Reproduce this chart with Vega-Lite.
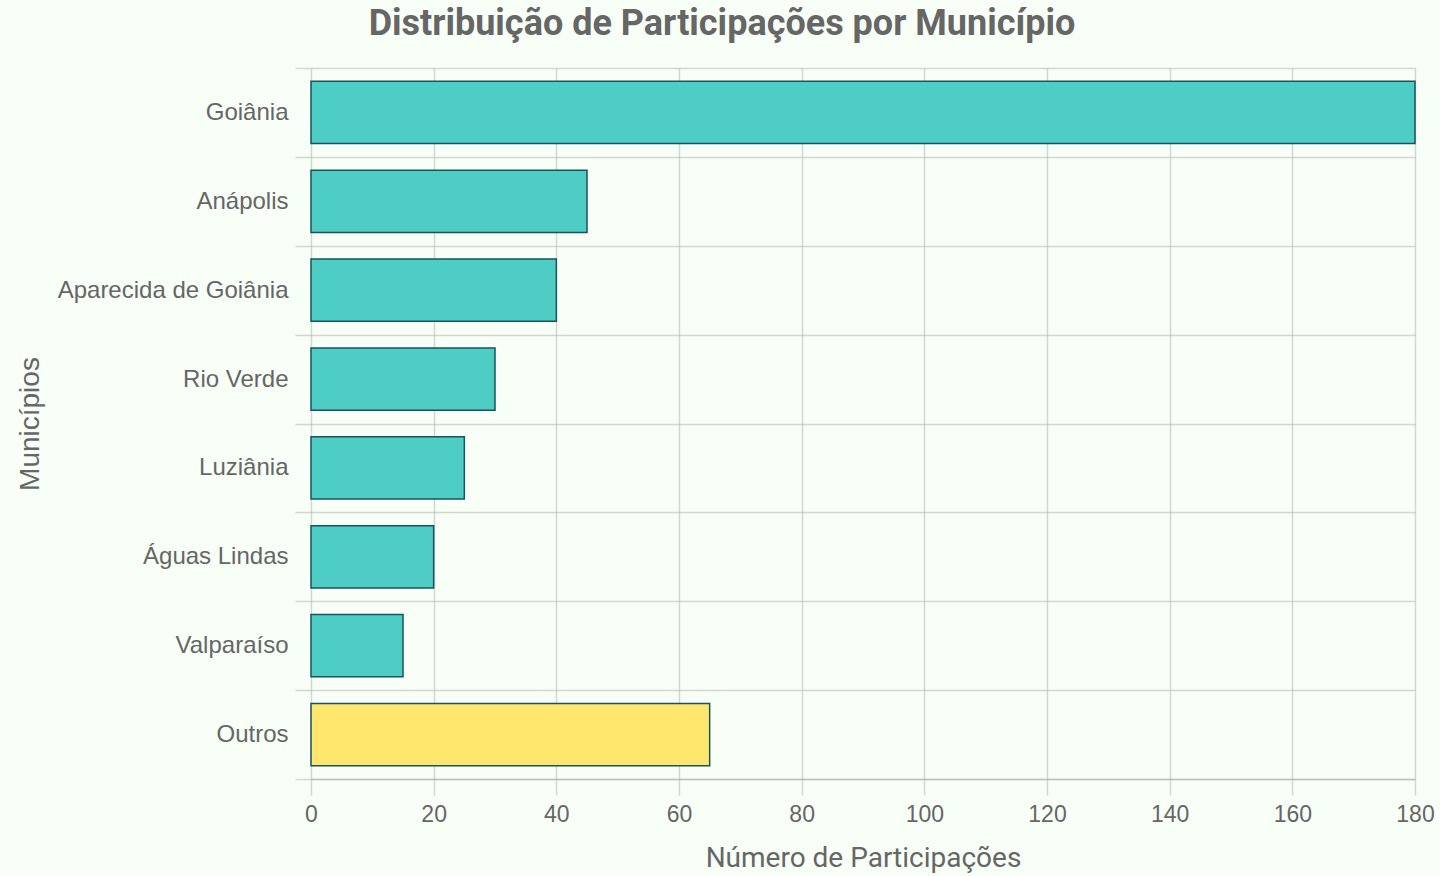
{
  "$schema": "https://vega.github.io/schema/vega-lite/v6.json",
  "width": 1104,
  "height": 711,
  "autosize": {"type": "none"},
  "padding": {"left": 311, "top": 68, "right": 25, "bottom": 97},
  "background": "#F7FFF7",
  "config": {"view": {"stroke": null}},
  "title": {
    "text": "Distribuição de Participações por Município",
    "font": "Roboto",
    "fontSize": 36,
    "fontWeight": "bold",
    "color": "#666666",
    "anchor": "middle",
    "frame": "group",
    "dx": -141,
    "offset": 13
  },
  "data": {
    "values": [
      {"municipio": "Goiânia", "participacoes": 180, "grupo": "top"},
      {"municipio": "Anápolis", "participacoes": 45, "grupo": "top"},
      {"municipio": "Aparecida de Goiânia", "participacoes": 40, "grupo": "top"},
      {"municipio": "Rio Verde", "participacoes": 30, "grupo": "top"},
      {"municipio": "Luziânia", "participacoes": 25, "grupo": "top"},
      {"municipio": "Águas Lindas", "participacoes": 20, "grupo": "top"},
      {"municipio": "Valparaíso", "participacoes": 15, "grupo": "top"},
      {"municipio": "Outros", "participacoes": 65, "grupo": "outros"}
    ]
  },
  "mark": {"type": "bar", "stroke": "#1A535C", "strokeWidth": 1.5, "height": {"band": 0.7}},
  "encoding": {
    "y": {
      "field": "municipio",
      "type": "nominal",
      "sort": null,
      "scale": {"paddingInner": 0, "paddingOuter": 0},
      "axis": {
        "title": "Municípios",
        "titleFont": "Liberation Sans",
        "titleFontSize": 28,
        "titleFontWeight": "normal",
        "titleColor": "#666666",
        "titleX": -273,
        "titleBaseline": "alphabetic",
        "labelFont": "Liberation Sans",
        "labelFontSize": 24,
        "labelColor": "#666666",
        "labelPadding": 7,
        "labelLimit": 0,
        "tickBand": "extent",
        "tickSize": 16,
        "tickColor": "#aab2aa",
        "tickOpacity": 0.5,
        "tickWidth": 1.5,
        "grid": true,
        "gridColor": "#aab2aa",
        "gridOpacity": 0.5,
        "gridWidth": 1.5,
        "domain": false
      }
    },
    "x": {
      "field": "participacoes",
      "type": "quantitative",
      "scale": {"domain": [0, 180], "nice": false},
      "axis": {
        "title": "Número de Participações",
        "titleFont": "Roboto",
        "titleFontSize": 28,
        "titleFontWeight": "normal",
        "titleColor": "#666666",
        "titlePadding": 18,
        "labelFont": "Liberation Sans",
        "labelFontSize": 23,
        "labelColor": "#666666",
        "labelPadding": 8,
        "values": [0, 20, 40, 60, 80, 100, 120, 140, 160, 180],
        "tickSize": 16,
        "tickColor": "#aab2aa",
        "tickOpacity": 0.5,
        "tickWidth": 1.5,
        "grid": true,
        "gridColor": "#aab2aa",
        "gridOpacity": 0.5,
        "gridWidth": 1.5,
        "domain": true,
        "domainColor": "#aab2aa",
        "domainOpacity": 0.6,
        "domainWidth": 1.5,
        "labelFlush": false
      }
    },
    "color": {
      "field": "grupo",
      "type": "nominal",
      "scale": {"domain": ["top", "outros"], "range": ["#4ECDC4", "#FFE66D"]},
      "legend": null
    }
  }
}
